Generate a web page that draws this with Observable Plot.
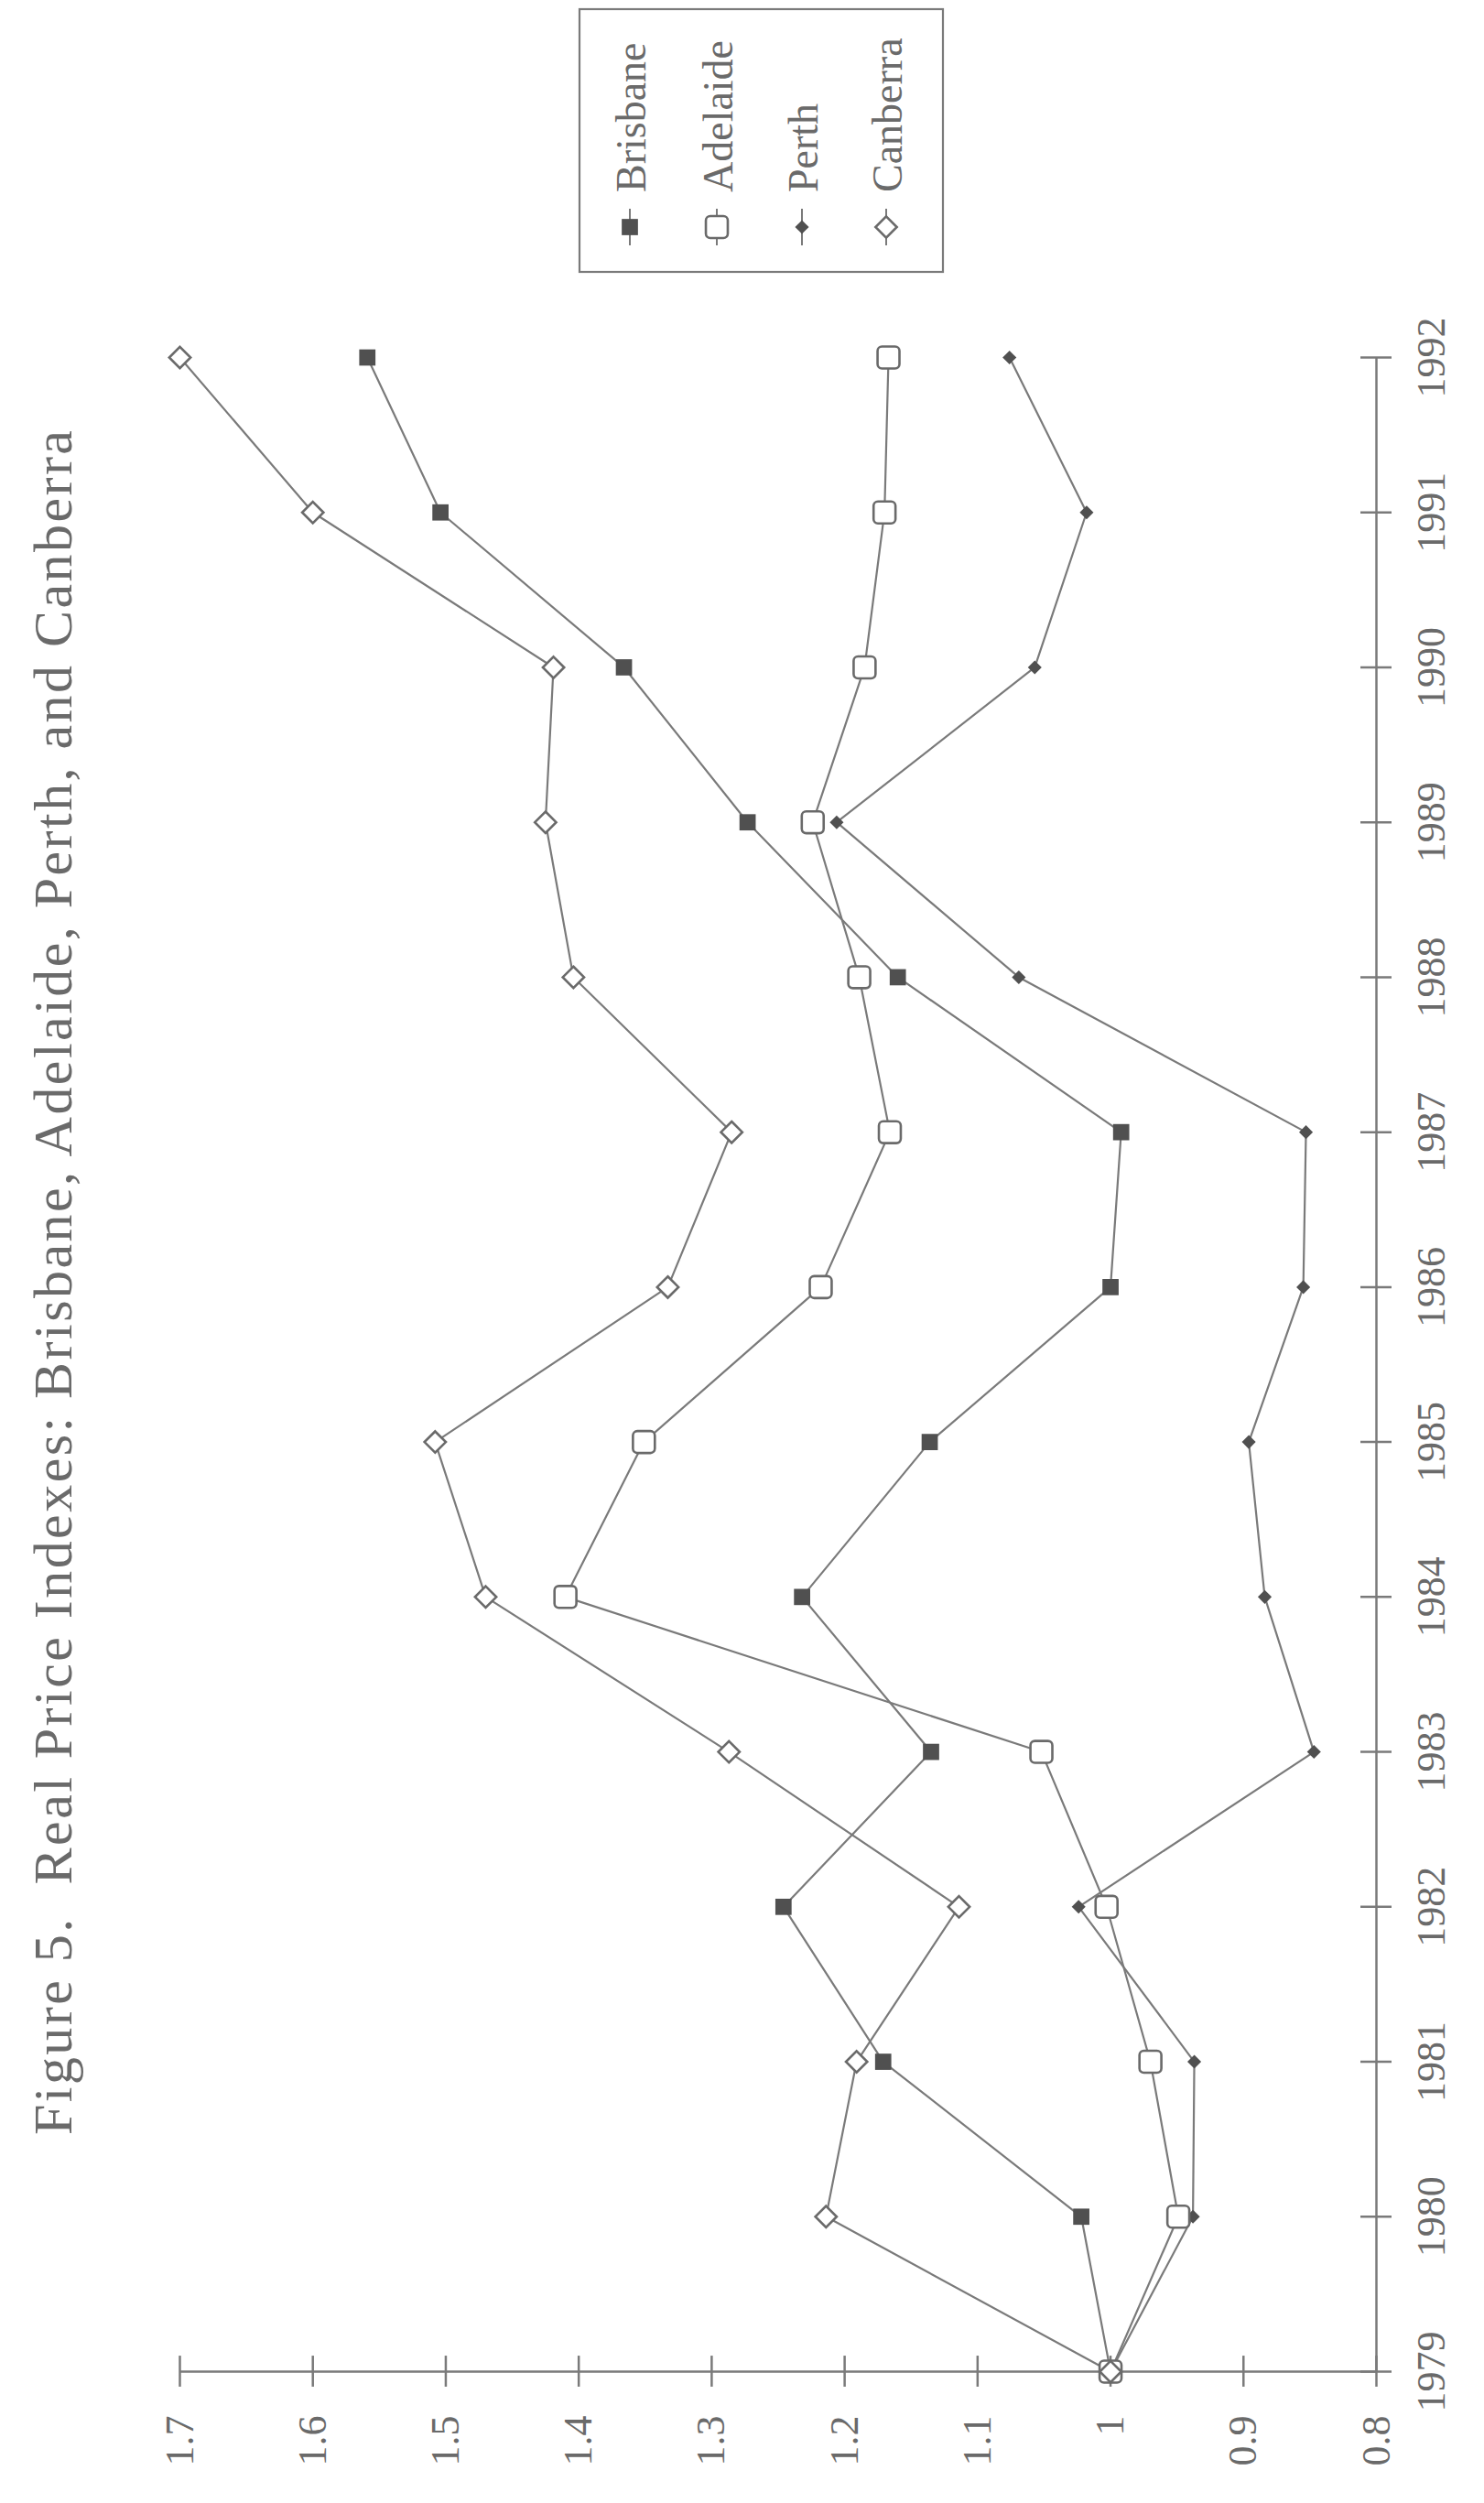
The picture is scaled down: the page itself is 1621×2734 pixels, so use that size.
<!DOCTYPE html>
<html><head><meta charset="utf-8">
<script src="https://cdn.jsdelivr.net/npm/d3@7"></script>
<script src="https://cdn.jsdelivr.net/npm/@observablehq/plot@0.6"></script>
<style>
html,body{margin:0;padding:0;background:#fff;}
#chart svg{display:block;}
</style></head><body><div id="chart"></div>
<script>
// ---- data ----
const years = [1979,1980,1981,1982,1983,1984,1985,1986,1987,1988,1989,1990,1991,1992];
const brisbane = [1.000,1.022,1.171,1.246,1.135,1.232,1.136,1.000,0.992,1.160,1.273,1.366,1.504,1.559];
const adelaide = [1.000,0.949,0.970,1.003,1.052,1.410,1.351,1.218,1.166,1.189,1.224,1.185,1.170,1.167];
const perth    = [1.000,0.938,0.937,1.024,0.847,0.884,0.896,0.855,0.853,1.069,1.206,1.057,1.018,1.076];
const canberra = [1.000,1.214,1.191,1.114,1.287,1.470,1.508,1.333,1.285,1.404,1.425,1.419,1.600,1.700];
const cities = ["Brisbane","Adelaide","Perth","Canberra"];
const valueTicks = [0.8,0.9,1.0,1.1,1.2,1.3,1.4,1.5,1.6,1.7];
const valueTickLabels = ["0.8","0.9","1","1.1","1.2","1.3","1.4","1.5","1.6","1.7"];
const yearTickLabels = years.map(String);
const titleText = "Figure 5.\u00a0 Real Price Indexes: Brisbane, Adelaide, Perth, and Canberra";

const seriesByCity = {Brisbane: brisbane, Adelaide: adelaide, Perth: perth, Canberra: canberra};
const rows = cities.flatMap(c => years.map((y, i) => ({city: c, year: y, value: seriesByCity[c][i]})));

// rounded square symbol for Adelaide
const roundedSquare = {
  draw(ctx, size) {
    const s = Math.sqrt(size) / 2, r = s * 0.4;
    ctx.moveTo(-s + r, -s);
    ctx.arcTo(s, -s, s, s, r);
    ctx.arcTo(s, s, -s, s, r);
    ctx.arcTo(-s, s, -s, -s, r);
    ctx.arcTo(-s, -s, s, -s, r);
    ctx.closePath();
  }
};

const ink = "#6a6a6a";
const lineInk = "#7a7a7a";
const dark = "#505050";

const styles = {
  Brisbane: {symbol: "square", r: 10, fill: dark, stroke: "none", strokeWidth: 0},
  Adelaide: {symbol: roundedSquare, r: 13.5, fill: "#fff", stroke: ink, strokeWidth: 2.6},
  Perth:    {symbol: "diamond2", r: 6.8, fill: dark, stroke: "none", strokeWidth: 0},
  Canberra: {symbol: "diamond2", r: 10.5, fill: "#fff", stroke: ink, strokeWidth: 2.6}
};
const drawOrder = ["Brisbane","Perth","Adelaide","Canberra"];

const chart = Plot.plot({
  width: 1621, height: 2734,
  marginLeft: 196, marginRight: 118, marginTop: 390, marginBottom: 144,
  x: {domain: [0.8, 1.7], reverse: true, axis: null},
  y: {domain: [1979, 1992], axis: null},
  style: {fontFamily: "'Liberation Serif', 'DejaVu Serif', serif", background: "#fff", color: ink},
  marks: [
    Plot.ruleY([years[0]], {stroke: lineInk, strokeWidth: 2.5}),
    Plot.ruleX([valueTicks[0]], {stroke: lineInk, strokeWidth: 2.5}),
    Plot.ruleX(valueTicks, {x: d => d, y1: () => years[0] - 0.1, y2: () => years[0] + 0.1, stroke: lineInk, strokeWidth: 2.5}),
    Plot.ruleY(years, {y: d => d, x1: () => valueTicks[0] + 0.0117, x2: () => valueTicks[0] - 0.0117, stroke: lineInk, strokeWidth: 2.5}),
    Plot.text(valueTicks, {x: d => d, y: () => years[0], text: (d, i) => valueTickLabels[i],
      rotate: -90, textAnchor: "end", lineAnchor: "middle", dy: 48, fontSize: 44, fill: ink}),
    Plot.text(years, {x: () => valueTicks[0], y: d => d, text: (d, i) => yearTickLabels[i],
      rotate: -90, textAnchor: "middle", lineAnchor: "middle", dx: 60, fontSize: 44, fill: ink}),
    Plot.line(rows, {x: "value", y: "year", z: "city", stroke: lineInk, strokeWidth: 2.2}),
    ...drawOrder.map(c => Plot.dot(rows.filter(d => d.city === c), {
      x: "value", y: "year", symbol: styles[c].symbol, r: styles[c].r,
      fill: styles[c].fill, stroke: styles[c].stroke, strokeWidth: styles[c].strokeWidth
    }))
  ]
});

const svg = d3.select(chart);
// title (rotated, reads bottom to top)
svg.append("text")
  .attr("transform", "translate(78,2332) rotate(-90)")
  .attr("text-anchor", "start")
  .attr("font-size", 60)
  .attr("fill", ink)
  .attr("textLength", 1862)
  .attr("lengthAdjust", "spacing")
  .text(titleText);

// legend
const lg = svg.append("g");
lg.append("rect").attr("x", 633).attr("y", 10).attr("width", 397).attr("height", 287)
  .attr("fill", "#fff").attr("stroke", lineInk).attr("stroke-width", 2.2);
const legendBase = [705, 800, 893, 985];
cities.forEach((c, i) => {
  const cx = legendBase[i] - 17, cy = 248;
  lg.append("line").attr("x1", cx).attr("x2", cx).attr("y1", 228).attr("y2", 268)
    .attr("stroke", lineInk).attr("stroke-width", 2);
  const st = styles[c];
  const symType = st.symbol === "square" ? d3.symbolSquare : st.symbol === "diamond2" ? d3.symbolDiamond2 : st.symbol;
  lg.append("path")
    .attr("transform", `translate(${cx},${cy})`)
    .attr("d", d3.symbol().type(symType).size(Math.PI * st.r * st.r)())
    .attr("fill", st.fill).attr("stroke", st.stroke).attr("stroke-width", st.strokeWidth);
  lg.append("text")
    .attr("transform", `translate(${legendBase[i]},210) rotate(-90)`)
    .attr("text-anchor", "start")
    .attr("font-size", 46).attr("fill", ink)
    .text(c);
});

document.getElementById("chart").appendChild(chart);
</script>
</body></html>
